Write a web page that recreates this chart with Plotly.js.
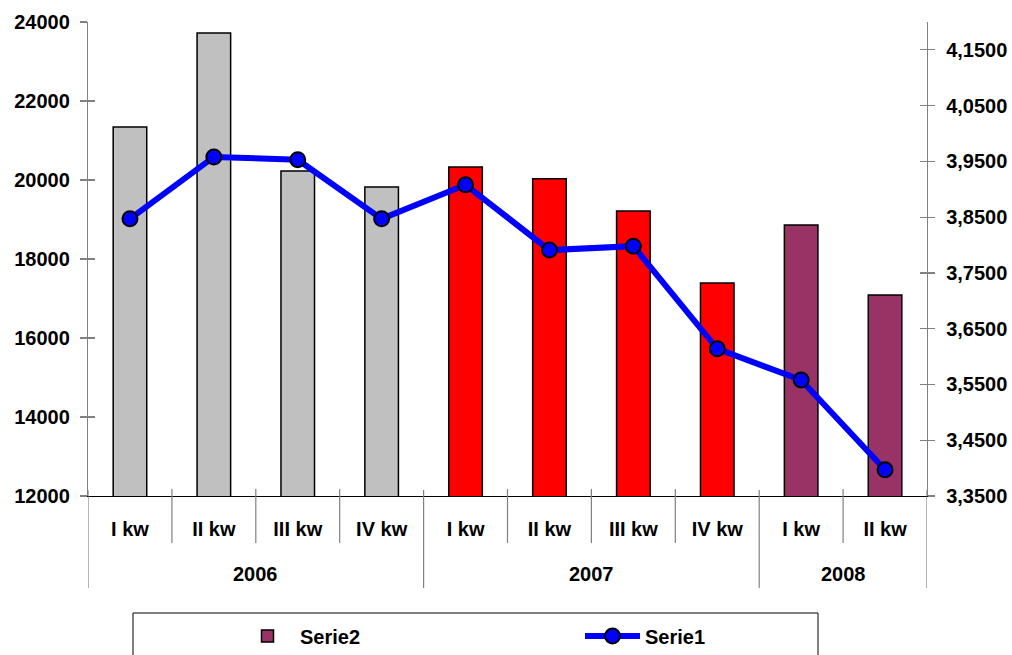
<!DOCTYPE html>
<html>
<head>
<meta charset="utf-8">
<script src="https://cdn.plot.ly/plotly-3.0.1.min.js"></script>
<style>html,body{margin:0;padding:0;background:#fff;}#chart{width:1012px;height:655px;}</style>
</head>
<body>
<div id="chart"></div>
<script>
const quarters = ['I kw','II kw','III kw','IV kw','I kw','II kw','III kw','IV kw','I kw','II kw'];
const yearLabels = ['2006','2007','2008'];
const yearCounts = [4, 4, 2];
const serie2 = [21340, 23720, 20230, 19820, 20330, 20030, 19215, 17390, 18860, 17090];
const serie1 = [3.847, 3.958, 3.953, 3.847, 3.908, 3.791, 3.798, 3.614, 3.558, 3.397];
const barColors = ['#C0C0C0','#C0C0C0','#C0C0C0','#C0C0C0','#FF0000','#FF0000','#FF0000','#FF0000','#993366','#993366'];

const idx = quarters.map((_, i) => i);
const F = {family: 'Liberation Sans, Arial, sans-serif', size: 20, color: '#000', weight: 'bold'};
const H = 474; // plot height in px (for paper fractions)
const py = px => -px / H; // px below the x axis -> paper y

// year group boundaries and centers in category units
const bounds = [-0.5];
const centers = [];
yearCounts.forEach(c => { const s = bounds[bounds.length-1]; centers.push(s + c/2); bounds.push(s + c); });

const data = [
  {type:'bar', name:'Serie2', x:[0], y:[null], width:0.4,
   marker:{color:'#993366', line:{color:'#000', width:1.5}}, hoverinfo:'skip', showlegend:true},
  {type:'bar', name:'Serie2', x:idx, y:serie2, width:0.4,
   marker:{color:barColors, line:{color:'#000', width:1.5}}, showlegend:false},
  {type:'scatter', mode:'lines+markers', name:'Serie1', x:idx, y:serie1, yaxis:'y2',
   line:{color:'#0000FF', width:6}, marker:{size:15, color:'#0000FF', line:{color:'#000', width:2}}},
  {type:'scatter', x:[], y:[], yaxis:'y3', showlegend:false, hoverinfo:'skip'},
  {type:'scatter', x:[], y:[], yaxis:'y4', showlegend:false, hoverinfo:'skip'}
];

const shapes = [];
// year dividers (including outer edges), extending below the axis
bounds.forEach(b => shapes.push({type:'line', xref:'x', yref:'paper', x0:b, x1:b, y0:py(-6), y1:py(92),
  line:{color:'#808080', width:1.2}}));
// quarter tick boundaries inside each group
idx.slice(1).forEach(i => { const b = i - 0.5; if (!bounds.includes(b))
  shapes.push({type:'line', xref:'x', yref:'paper', x0:b, x1:b, y0:py(-7), y1:py(47),
  line:{color:'#808080', width:1.2}}); });
// legend box
shapes.push({type:'rect', xref:'paper', yref:'paper', x0:(133-88)/839, x1:(818-88)/839, y0:py(117), y1:py(180),
  line:{color:'#000', width:1}, fillcolor:'rgba(0,0,0,0)'});

const annotations = yearLabels.map((t, k) => ({text:t, xref:'x', yref:'paper', x:centers[k], y:py(78),
  xanchor:'center', yanchor:'middle', showarrow:false, font:F}));

const yBase = {showgrid:false, zeroline:false, tickfont:F};
const layout = {
  width:1012, height:655,
  margin:{l:88, r:85, t:22, b:159},
  paper_bgcolor:'#fff', plot_bgcolor:'#fff',
  barmode:'overlay',
  separators:', ',
  font:F,
  xaxis:{range:[-0.5, 9.5], tickmode:'array', tickvals:idx, ticktext:quarters, ticks:'',
         ticklabelstandoff:15, showline:true, linecolor:'#000', linewidth:1,
         showgrid:false, zeroline:false, tickfont:F, fixedrange:true},
  yaxis:Object.assign({range:[12000,24000], dtick:2000, tick0:12000, tickformat:'d',
         showline:true, linecolor:'#808080', linewidth:1.2,
         ticks:'outside', ticklen:7, tickcolor:'#808080', tickwidth:1.2, ticklabelstandoff:6}, yBase),
  yaxis2:Object.assign({overlaying:'y', side:'right', range:[3.35,4.2], tick0:3.35, dtick:0.1, tickformat:'.4f',
          showline:true, linecolor:'#808080', linewidth:1.2,
          ticks:'outside', ticklen:7, tickcolor:'#808080', tickwidth:1.2, ticklabelstandoff:7}, yBase),
  yaxis3:Object.assign({overlaying:'y', side:'left', range:[12000,24000], dtick:2000, tick0:12000,
          showline:false, ticks:'inside', ticklen:7, tickcolor:'#808080', tickwidth:1.2, showticklabels:false}, yBase),
  yaxis4:Object.assign({overlaying:'y', side:'right', range:[3.35,4.2], tick0:3.35, dtick:0.1,
          showline:false, ticks:'inside', ticklen:7, tickcolor:'#808080', tickwidth:1.2, showticklabels:false}, yBase),
  legend:{orientation:'h', xref:'container', yref:'container', x:235/1012, xanchor:'left', y:1-636/655, yanchor:'middle',
          entrywidth:275, entrywidthmode:'pixels', itemwidth:55,
          bgcolor:'rgba(0,0,0,0)', borderwidth:0, font:F, traceorder:'normal'},
  shapes:shapes,
  annotations:annotations
};

Plotly.newPlot('chart', data, layout, {displayModeBar:false, staticPlot:true});
</script>
</body>
</html>
